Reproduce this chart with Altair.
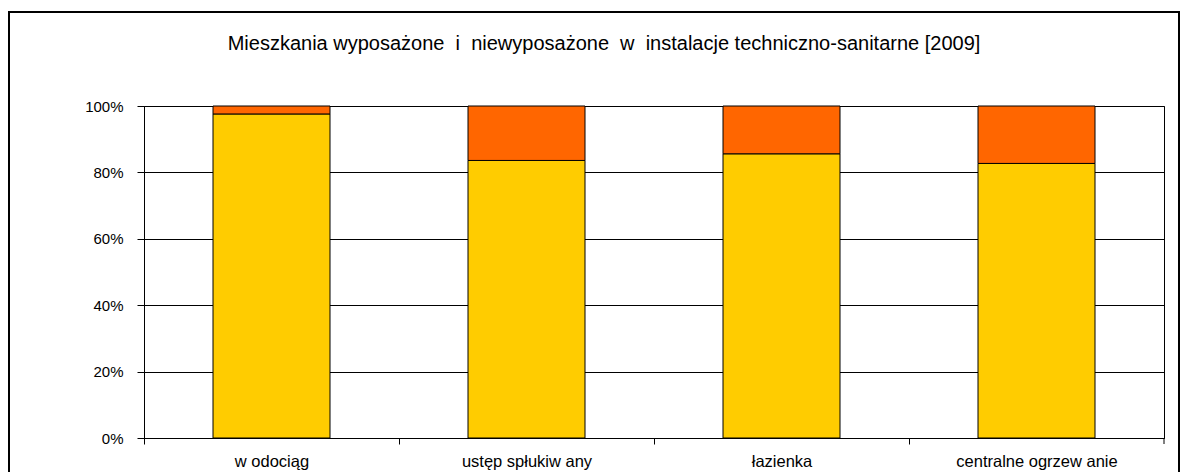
import altair as alt
import pandas as pd

categories = ["w odociąg", "ustęp spłukiw any", "łazienka", "centralne ogrzew anie"]
wyposazone = [97.6, 83.6, 85.6, 82.7]
niewyposazone = [2.4, 16.4, 14.4, 17.3]
series_names = ["wyposażone", "niewyposażone"]
series_colors = ["#FFCC00", "#FF6600"]
NB = "\u00a0"
title_text = f"Mieszkania wyposażone {NB}i{NB} niewyposażone {NB}w{NB} instalacje techniczno-sanitarne [2009]"

rows = []
for i, c in enumerate(categories):
    rows.append({"kat": c, "seria": series_names[0], "val": wyposazone[i], "ord": 0})
    rows.append({"kat": c, "seria": series_names[1], "val": niewyposazone[i], "ord": 1})
df = pd.DataFrame(rows)

W, H = 1020, 332
BAND = W / len(categories)

bars = alt.Chart(df).mark_bar(stroke="black", strokeWidth=1, size=117).encode(
    x=alt.X("kat:N", sort=categories, title=None,
            scale=alt.Scale(paddingInner=0, paddingOuter=0),
            axis=alt.Axis(labelAngle=0, tickOffset=-BAND / 2, labelOffset=BAND / 2,
                          domainColor="black", tickColor="black", tickSize=6,
                          labelPadding=9, labelFont="Liberation Sans", labelFontSize=16.5,
                          labelColor="black", grid=False)),
    y=alt.Y("val:Q", stack="normalize", title=None,
            scale=alt.Scale(domain=[0, 1]),
            axis=alt.Axis(format=".0%", values=[0, 0.2, 0.4, 0.6, 0.8, 1.0],
                          domainColor="black", tickColor="black", tickSize=7,
                          labelPadding=14, labelFont="Liberation Sans", labelFontSize=15,
                          labelColor="black", gridColor="black", gridOpacity=1, gridWidth=1)),
    color=alt.Color("seria:N", scale=alt.Scale(domain=series_names, range=series_colors), legend=None),
    order=alt.Order("ord:Q", sort="ascending"),
)

one = pd.DataFrame({"t": [title_text]})

end_tick = alt.Chart(one).mark_rule(color="black").encode(
    x=alt.value(W), y=alt.value(H), y2=alt.value(H + 6))

frame_left = alt.Chart(one).mark_rule(color="black", strokeWidth=2).encode(
    x=alt.value(-135), y=alt.value(-95), y2=alt.value(H + 60))
frame_top = alt.Chart(one).mark_rule(color="black", strokeWidth=2).encode(
    x=alt.value(-136), x2=alt.value(W + 16), y=alt.value(-94))
frame_right = alt.Chart(one).mark_rule(color="black", strokeWidth=2).encode(
    x=alt.value(W + 15), y=alt.value(-95), y2=alt.value(H + 60))

title = alt.Chart(one).mark_text(font="Liberation Sans", fontSize=20, color="black",
                                  align="center", baseline="middle").encode(
    x=alt.value(460), y=alt.value(-62), text="t:N")

chart = alt.layer(bars, end_tick, frame_left, frame_top, frame_right, title).properties(
    width=W, height=H,
    padding={"left": 136, "top": 98, "right": 16, "bottom": 34},
    autosize=alt.AutoSizeParams(type="none"),
).configure_view(stroke="black", strokeWidth=1)

chart.save("out.html", embed_options={"renderer": "svg", "actions": False})
